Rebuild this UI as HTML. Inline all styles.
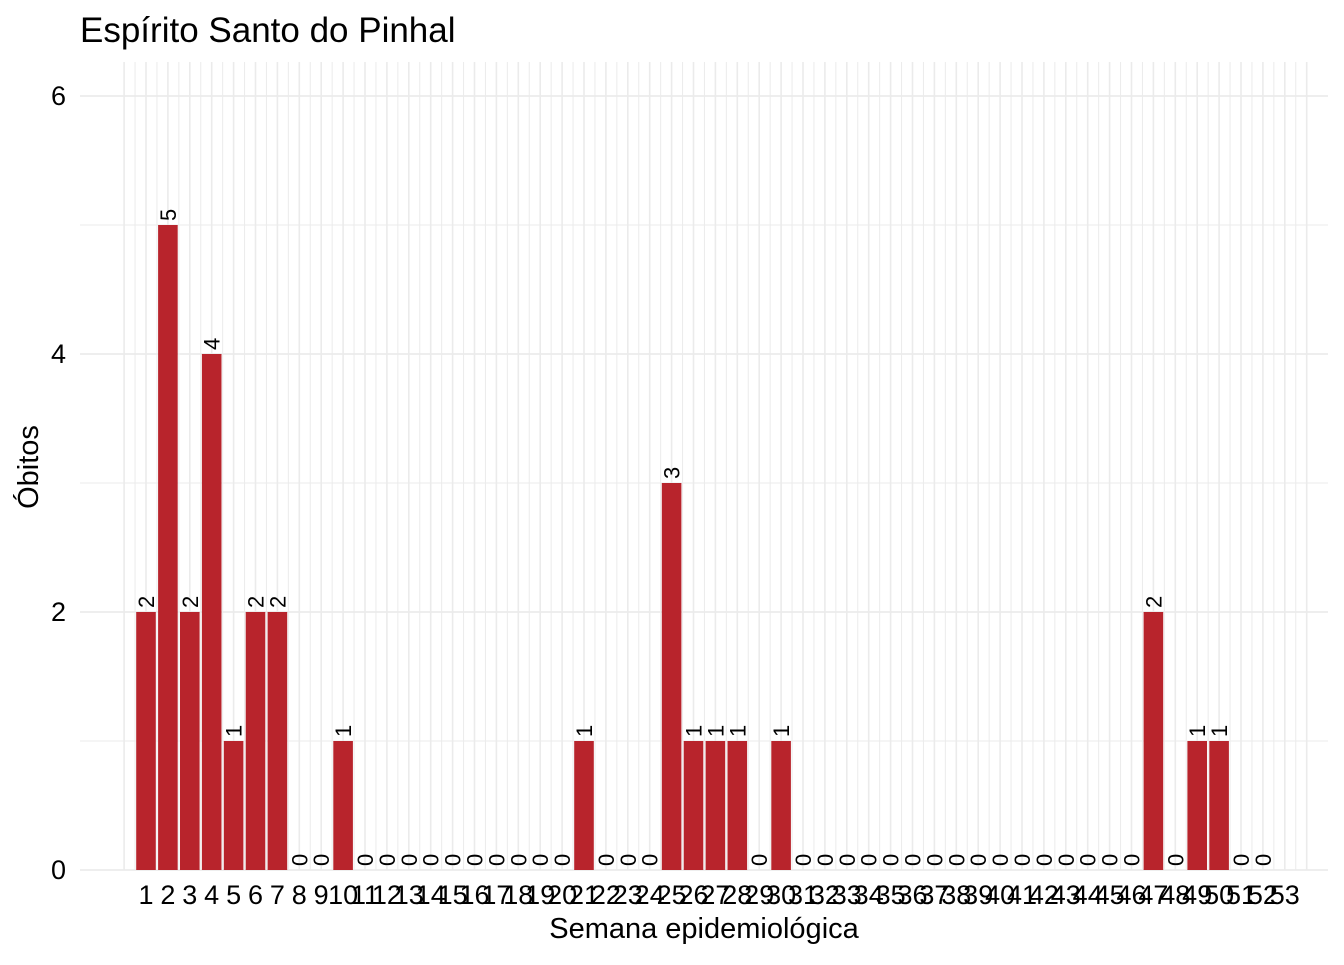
<!DOCTYPE html>
<html><head><meta charset="utf-8"><style>
body{margin:0;background:#fff;font-family:"Liberation Sans",sans-serif}
</style></head><body>
<svg width="1344" height="960" xmlns="http://www.w3.org/2000/svg" font-family="Liberation Sans, sans-serif">
<text x="80" y="42" font-size="35" fill="#000">Espírito Santo do Pinhal</text>
<g id="grid"></g>
<g id="bars"></g>
<g id="labels"></g>
<g id="xticks"></g>
<g id="yticks"></g>
<text x="704" y="938" font-size="29" text-anchor="middle">Semana epidemiológica</text>
<text transform="translate(38,467) rotate(-90)" font-size="29" text-anchor="middle">Óbitos</text>
</svg>
<script>
const weeks = Array.from({length:53},(_,i)=>i+1);
const deaths = [2,5,2,4,1,2,2,0,0,1,0,0,0,0,0,0,0,0,0,0,1,0,0,0,3,1,1,1,0,1,0,0,0,0,0,0,0,0,0,0,0,0,0,0,0,0,2,0,1,1,0,0,null];
const yTicks = [0,2,4,6];
const NS='http://www.w3.org/2000/svg';
const step=21.9, x0=146;
const x = w => x0 + (w-1)*step;
const y = v => 870 - v*129;
function el(t,a,p){const e=document.createElementNS(NS,t);for(const k in a)e.setAttribute(k,a[k]);document.getElementById(p).appendChild(e);return e;}
for(let k=0;k<=108;k++){const gx=x(0)+k*step/2;
 const g=el('line',{x1:gx,x2:gx,y1:62,y2:870,stroke:'#ebebeb','stroke-width':k%2?1:1.6},'grid');
 
 }
for(let v=0;v<=6;v++){const g=el('line',{x1:80,x2:1328,y1:y(v),y2:y(v),stroke:'#ebebeb','stroke-width':v%2?1:1.8},'grid');
 
 }
weeks.forEach((w,i)=>{
 const v=deaths[i];
 const t=el('text',{x:x(w),y:904,'font-size':27,'text-anchor':'middle'},'xticks');t.textContent=w;
 
 
 if(v===null)return;
 if(v>0){const r=el('rect',{x:x(w)-9.8,y:y(v),width:19.6,height:v*129,fill:'#b8242c'},'bars');
  
  }
 const ly=y(v)-4, lx=x(w)+8;
 const l=el('text',{transform:`translate(${lx},${ly}) rotate(-90)`,'font-size':22},'labels');l.textContent=v;
 
 
});
yTicks.forEach(v=>{const t=el('text',{x:66,y:y(v)+9,'font-size':27,'text-anchor':'end'},'yticks');t.textContent=v;
 
 });
</script>
</body></html>
